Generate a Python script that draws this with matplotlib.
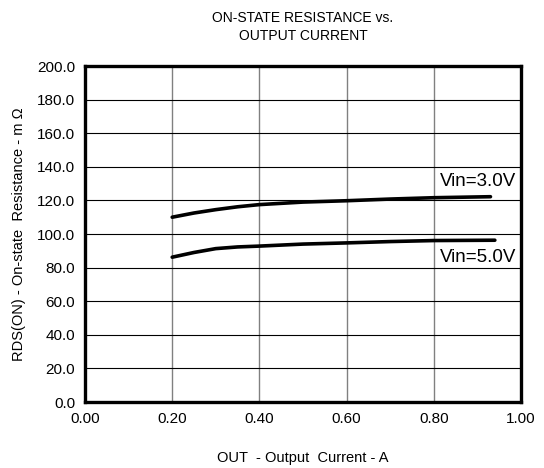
import matplotlib
matplotlib.use("Agg")
from matplotlib import pyplot as plt

plt.rcParams['font.family'] = ['Liberation Sans', 'DejaVu Sans']

# on-state resistance (mOhm) vs output current (A)
x_30 = [0.20, 0.25, 0.30, 0.35, 0.40, 0.50, 0.60, 0.70, 0.80, 0.93]
r_30 = [110.0, 112.5, 114.5, 116.2, 117.5, 119.0, 119.8, 120.8, 121.6, 122.2]
x_50 = [0.20, 0.25, 0.30, 0.35, 0.40, 0.50, 0.60, 0.70, 0.80, 0.94]
r_50 = [86.2, 89.0, 91.3, 92.3, 92.8, 94.0, 94.7, 95.5, 96.1, 96.3]

xticks = [0.0, 0.2, 0.4, 0.6, 0.8, 1.0]
yticks = [0, 20, 40, 60, 80, 100, 120, 140, 160, 180, 200]

fig = plt.figure(figsize=(5.44, 4.68), dpi=100)
ax = fig.add_axes([85/544, 66/468, 436/544, 336/468])

for g in xticks[1:-1]:
    ax.axvline(g, color='#808080', lw=1.0, zorder=1)
for g in yticks[1:-1]:
    ax.axhline(g, color='black', lw=0.8, zorder=1)

ax.plot(x_30, r_30, color='black', lw=2.6, solid_capstyle='round', zorder=3)
ax.plot(x_50, r_50, color='black', lw=2.6, solid_capstyle='round', zorder=3)

ax.text(0.813, 131, 'Vin=3.0V', fontsize=13.5, ha='left', va='center')
ax.text(0.813, 86, 'Vin=5.0V', fontsize=13.5, ha='left', va='center')

ax.set_xlim(0, 1.0)
ax.set_ylim(0, 200)
ax.set_xticks(xticks)
ax.set_yticks(yticks)
ax.set_xticklabels(['%.2f' % v for v in xticks])
ax.set_yticklabels(['%.1f' % v for v in yticks])
ax.tick_params(length=0, labelsize=11, pad=7)
for s in ax.spines.values():
    s.set_linewidth(2.4)

ax.set_xlabel('OUT  - Output  Current - A', fontsize=10.5, labelpad=18)
ax.set_ylabel('RDS(ON) - On-state  Resistance - m \u03a9', fontsize=10.5, labelpad=8)
ax.set_title('ON-STATE RESISTANCE vs.\nOUTPUT CURRENT', fontsize=10, pad=19, linespacing=1.35)

fig.savefig('out.png', dpi=100)
